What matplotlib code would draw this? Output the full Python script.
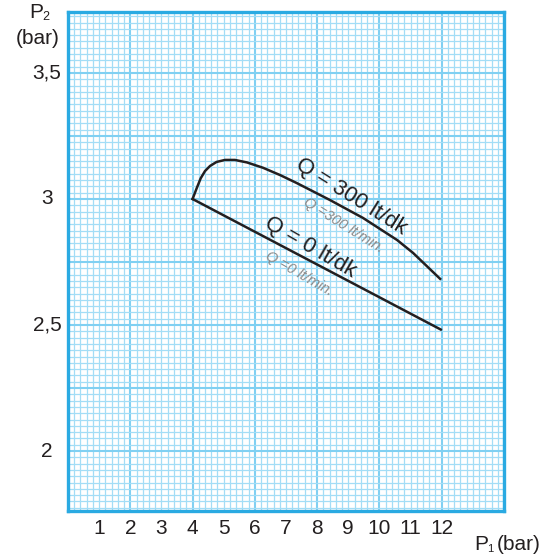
import matplotlib
matplotlib.use("Agg")
from matplotlib import pyplot as plt
from matplotlib.ticker import MultipleLocator

plt.rcParams['font.family'] = ['Liberation Sans', 'DejaVu Sans']

# Q = 0 lt/dk (straight line)
p1_q0 = [4.0, 11.97]
p2_q0 = [3.0, 2.482]

# Q = 300 lt/dk
p1_q300 = [4.0, 4.13, 4.26, 4.40, 4.56, 4.77, 5.04, 5.36, 5.75, 6.26, 6.81, 7.35, 8.41, 9.47, 10.57, 11.08, 11.95]
p2_q300 = [3.0, 3.042, 3.082, 3.111, 3.131, 3.147, 3.155, 3.155, 3.145, 3.124, 3.095, 3.063, 2.996, 2.925, 2.837, 2.786, 2.683]

x_ticks = list(range(1, 13))
y_ticks = [2, 2.5, 3, 3.5]
y_labels = ["2", "2,5", "3", "3,5"]

W, H = 553, 555
fig = plt.figure(figsize=(W / 100, H / 100), dpi=100)
ax = fig.add_axes([68 / W, 1 - 511 / H, 436 / W, 499 / H])

ax.set_xlim(0, 14.0)
ax.set_ylim(1.762, 3.742)

# graph paper grid
ax.xaxis.set_major_locator(MultipleLocator(2))
ax.xaxis.set_minor_locator(MultipleLocator(0.2))
ax.yaxis.set_major_locator(MultipleLocator(0.25))
ax.yaxis.set_minor_locator(MultipleLocator(0.025))
ax.grid(which='minor', color='#a3ddf6', lw=0.9)
ax.grid(which='major', color='#80d0f2', lw=1.5)
ax.set_axisbelow(True)
ax.tick_params(which='both', length=0, labelbottom=False, labelleft=False)

for s in ax.spines.values():
    s.set_color('#2aaae2')
    s.set_linewidth(2.4)

ax.plot(p1_q0, p2_q0, color='#231f20', lw=1.8, zorder=3)
ax.plot(p1_q300, p2_q300, color='#231f20', lw=1.8, zorder=3, solid_joinstyle='round')

# tick labels
for x in x_ticks:
    ax.annotate(str(x), xy=(x, 0), xycoords=('data', 'figure fraction'),
                xytext=(0, 1 - 528 / H), textcoords=('offset points', 'figure fraction'),
                ha='center', va='center', fontsize=15, color='#231f20')
for y, lab in zip(y_ticks, y_labels):
    ax.annotate(lab, xy=(0, y), xycoords=('figure fraction', 'data'),
                xytext=(47 / W, 0), textcoords=('figure fraction', 'offset points'),
                ha='center', va='center', fontsize=15, color='#231f20')

# axis titles with small subscripts
fig.text(36 / W, 1 - 12 / H, 'P', ha='center', va='center', fontsize=15, color='#231f20')
fig.text(46 / W, 1 - 17 / H, '2', ha='center', va='center', fontsize=9, color='#231f20')
fig.text(38 / W, 1 - 38 / H, '(bar)', ha='center', va='center', fontsize=15, color='#231f20')
fig.text(481 / W, 1 - 545 / H, 'P', ha='center', va='center', fontsize=15, color='#231f20')
fig.text(490 / W, 1 - 549 / H, '1', ha='center', va='center', fontsize=8, color='#231f20')
fig.text(519 / W, 1 - 545 / H, '(bar)', ha='center', va='center', fontsize=15, color='#231f20')

fig.text(351 / W, 1 - 197 / H, 'Q = 300 lt/dk', rotation=-32, ha='center', va='center',
         fontsize=16, color='#231f20', rotation_mode='anchor')
fig.text(344 / W, 1 - 225 / H, 'Q =300 lt/min.', rotation=-32, ha='center', va='center',
         fontsize=10.5, style='italic', color='#8a8a8a', rotation_mode='anchor')
fig.text(310 / W, 1 - 247 / H, 'Q = 0 lt/dk', rotation=-30, ha='center', va='center',
         fontsize=16, color='#231f20', rotation_mode='anchor')
fig.text(299 / W, 1 - 274 / H, 'Q =0 lt/min.', rotation=-30, ha='center', va='center',
         fontsize=10.5, style='italic', color='#8a8a8a', rotation_mode='anchor')

fig.savefig('out.png', dpi=100)
